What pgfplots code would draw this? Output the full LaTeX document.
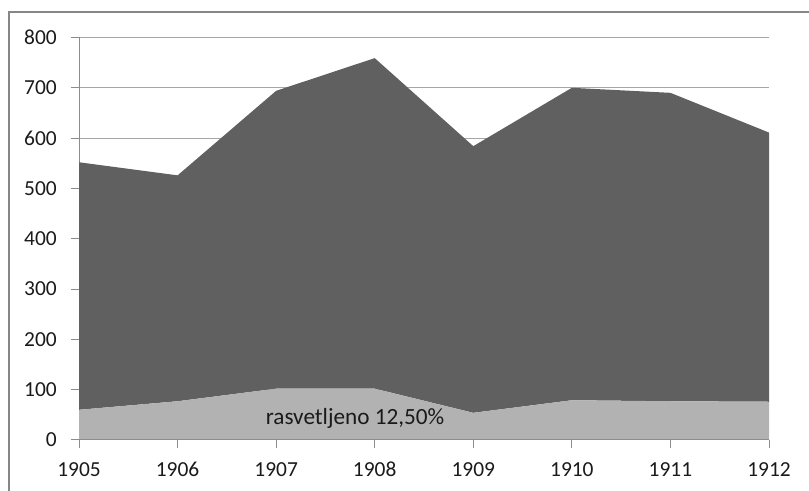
\documentclass[border=0pt]{standalone}
\usepackage{pgfplots}
\pgfplotsset{compat=1.18}
\usepackage{fontspec}
\setmainfont{Carlito}
\definecolor{darkarea}{HTML}{606060}
\definecolor{lightarea}{HTML}{B2B2B2}
\definecolor{gridc}{HTML}{A6A6A6}
\definecolor{framec}{HTML}{868686}
\definecolor{axisc}{HTML}{8C8C8C}
\definecolor{textc}{HTML}{1A1A1A}
\begin{document}
\begin{tikzpicture}[x=1bp,y=1bp]
\useasboundingbox (0,0) rectangle (809,491);
\draw[framec, line width=2bp] (9,0) -- (9,479) -- (809,479);
\begin{axis}[
  at={(79bp,51bp)}, anchor=south west,
  scale only axis, width=690bp, height=402.5bp,
  xmin=1905, xmax=1912, ymin=0, ymax=800,
  xtick={1905,1906,...,1912}, ytick={0,100,...,800},
  /pgf/number format/.cd, 1000 sep={}, assume math mode=true, /pgfplots/.cd,
  axis x line*=bottom, axis y line*=left,
  axis line style={axisc, line width=1bp},
  ymajorgrids, grid style={gridc, line width=1bp},
  tick align=outside, major tick length=8bp,
  tick style={axisc, line width=1bp},
  ticklabel style={font=\fontsize{21.5}{24}\selectfont, text=textc},
  yticklabel style={inner sep=0pt, anchor=east, xshift=-14bp},
  xticklabel style={inner sep=0pt, anchor=north, yshift=-14bp},
  stack plots=y,
  clip=false,
]
\addplot[fill=lightarea, draw=none] coordinates {
 (1905,60) (1906,77) (1907,102) (1908,102) (1909,54) (1910,79) (1911,77) (1912,76)
} \closedcycle;
\addplot[fill=darkarea, draw=none] coordinates {
 (1905,492) (1906,449) (1907,592) (1908,657) (1909,530) (1910,621) (1911,613) (1912,535)
} \closedcycle;
\coordinate (labpos) at (axis cs:1907.80,42);
\coordinate (xa) at (axis cs:1905,0);
\coordinate (xb) at (axis cs:1912,0);
\end{axis}
\draw[axisc, line width=1bp] (xa) -- (xb);
\node[font=\fontsize{23.3}{26}\selectfont, text=textc] at (labpos) {rasvetljeno 12,50\%};
\end{tikzpicture}
\end{document}
